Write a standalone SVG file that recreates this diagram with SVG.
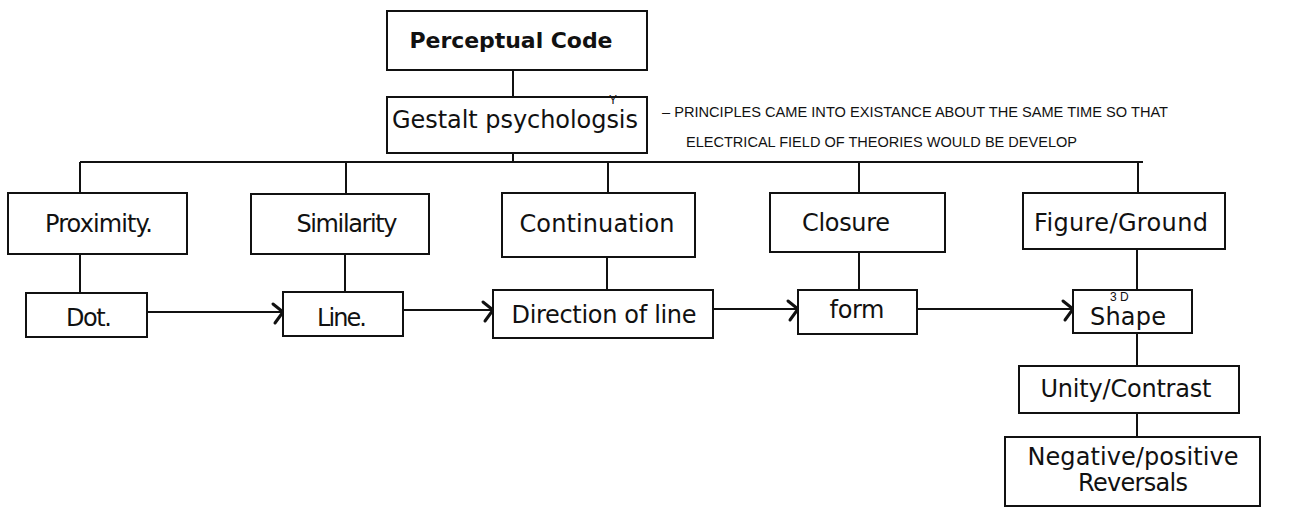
<svg xmlns="http://www.w3.org/2000/svg" width="1315" height="508" viewBox="0 0 1315 508">
<defs>
<style>
.box{fill:#fff;stroke:#111;stroke-width:2}
.ln{fill:none;stroke:#111;stroke-width:2}
.t{font-family:"DejaVu Sans","Liberation Sans",sans-serif;font-size:24px;fill:#111;text-anchor:middle}
.tb{font-weight:bold;font-size:22px}
.hw{font-family:"Liberation Sans",sans-serif;font-size:14px;fill:#111}
.hs{font-family:"Liberation Sans",sans-serif;font-size:12px;fill:#111}
</style>
<marker id="chev" markerUnits="userSpaceOnUse" markerWidth="20" markerHeight="30" refX="14" refY="13" orient="auto" viewBox="0 0 20 30">
<path d="M4 5 L14 13 L6 24" fill="none" stroke="#111" stroke-width="3" stroke-linecap="round" stroke-linejoin="round"/>
</marker>
</defs>
<rect width="1315" height="508" fill="#fff"/>
<g id="connectors">
<line class="ln" x1="513" y1="70" x2="513" y2="97"/>
<line class="ln" x1="513" y1="153" x2="513" y2="162"/>
<line class="ln" x1="80" y1="162" x2="1143" y2="162"/>
<line class="ln" x1="80" y1="162" x2="80" y2="193"/>
<line class="ln" x1="346" y1="162" x2="346" y2="194"/>
<line class="ln" x1="608" y1="162" x2="608" y2="193"/>
<line class="ln" x1="859" y1="162" x2="859" y2="193"/>
<line class="ln" x1="1138" y1="162" x2="1138" y2="193"/>
<line class="ln" x1="80" y1="254" x2="80" y2="293"/>
<line class="ln" x1="345" y1="254" x2="345" y2="292"/>
<line class="ln" x1="607" y1="257" x2="607" y2="290"/>
<line class="ln" x1="859" y1="252" x2="859" y2="290"/>
<line class="ln" x1="1137" y1="249" x2="1137" y2="290"/>
<line class="ln" x1="1137" y1="333" x2="1137" y2="366"/>
<line class="ln" x1="1137" y1="413" x2="1137" y2="437"/>
<line class="ln" x1="147" y1="312" x2="283" y2="312" marker-end="url(#chev)"/>
<line class="ln" x1="403" y1="310" x2="493" y2="310" marker-end="url(#chev)"/>
<line class="ln" x1="713" y1="309" x2="798" y2="309" marker-end="url(#chev)"/>
<line class="ln" x1="917" y1="309" x2="1073" y2="309" marker-end="url(#chev)"/>
</g>
<g id="perceptual-code">
<rect class="box" x="387" y="11" width="260" height="59"/>
<text class="t tb" x="511" y="48" textLength="203">Perceptual Code</text>
</g>
<g id="gestalt">
<rect class="box" x="387" y="97" width="260" height="56"/>
<text class="t" x="515" y="128" textLength="246">Gestalt psychologsis</text>
<text class="hs" x="609" y="104" font-size="10">Y</text>
</g>
<g id="note">
<text class="hw" x="662" y="117" textLength="506" lengthAdjust="spacingAndGlyphs">– PRINCIPLES CAME INTO EXISTANCE ABOUT THE SAME TIME SO THAT</text>
<text class="hw" x="686" y="147" textLength="391" lengthAdjust="spacingAndGlyphs">ELECTRICAL FIELD OF THEORIES WOULD BE DEVELOP</text>
</g>
<g id="proximity">
<rect class="box" x="8" y="193" width="179" height="61"/>
<text class="t" x="99" y="232" textLength="108">Proximity.</text>
</g>
<g id="similarity">
<rect class="box" x="251" y="194" width="178" height="60"/>
<text class="t" x="347" y="232" textLength="101">Similarity</text>
</g>
<g id="continuation">
<rect class="box" x="502" y="193" width="193" height="64"/>
<text class="t" x="597" y="232" textLength="155">Continuation</text>
</g>
<g id="closure">
<rect class="box" x="770" y="193" width="175" height="59"/>
<text class="t" x="846" y="231" textLength="88">Closure</text>
</g>
<g id="figure-ground">
<rect class="box" x="1023" y="193" width="202" height="56"/>
<text class="t" x="1121" y="231" textLength="174">Figure/Ground</text>
</g>
<g id="dot">
<rect class="box" x="26" y="293" width="121" height="44"/>
<text class="t" x="89" y="326" textLength="46">Dot.</text>
</g>
<g id="line">
<rect class="box" x="283" y="292" width="120" height="44"/>
<text class="t" x="342" y="326" textLength="50">Line.</text>
</g>
<g id="direction-of-line">
<rect class="box" x="493" y="290" width="220" height="48"/>
<text class="t" x="604" y="323" textLength="185">Direction of line</text>
</g>
<g id="form">
<rect class="box" x="798" y="290" width="119" height="44"/>
<text class="t" x="857" y="318" textLength="55">form</text>
</g>
<g id="shape">
<rect class="box" x="1073" y="290" width="119" height="43"/>
<text class="t" x="1128" y="325" textLength="76">Shape</text>
<text class="hs" x="1110" y="301" font-size="11">3 D</text>
</g>
<g id="unity-contrast">
<rect class="box" x="1019" y="366" width="220" height="47"/>
<text class="t" x="1126" y="397" textLength="171">Unity/Contrast</text>
</g>
<g id="negative-positive">
<rect class="box" x="1005" y="437" width="255" height="69"/>
<text class="t" x="1133" y="465" textLength="211">Negative/positive</text>
<text class="t" x="1133" y="491" textLength="110">Reversals</text>
</g>
</svg>
